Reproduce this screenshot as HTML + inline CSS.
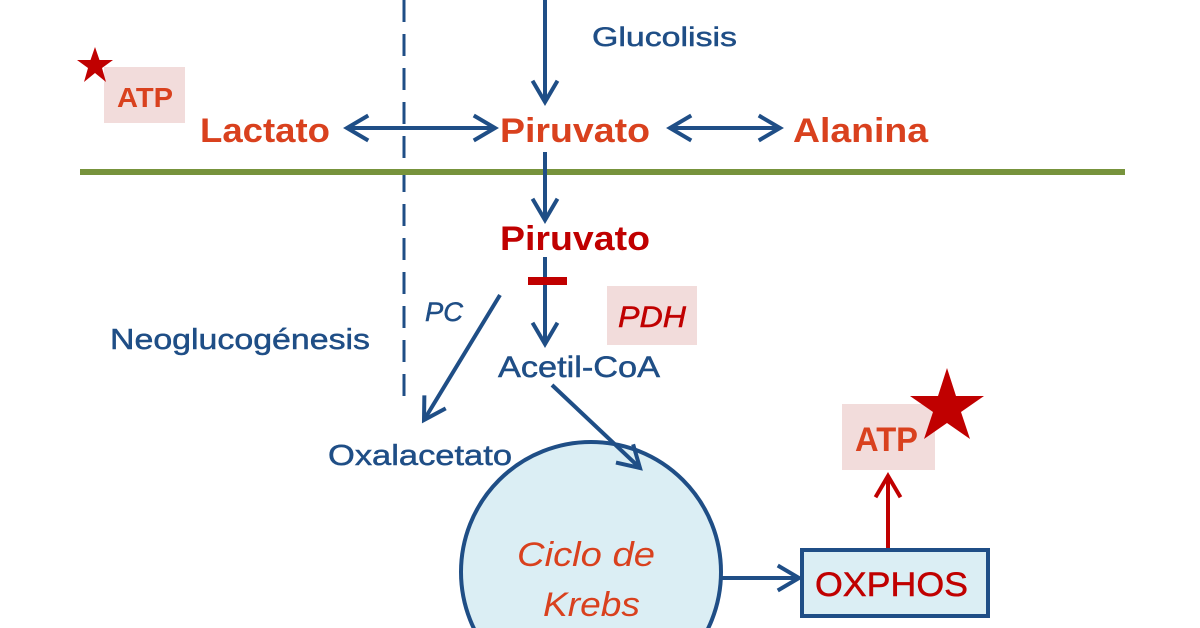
<!DOCTYPE html>
<html><head><meta charset="utf-8"><style>
html,body{margin:0;padding:0;background:#fff;overflow:hidden;}
svg{display:block;}
text{font-family:"Liberation Sans",sans-serif;}
</style></head><body>
<svg width="1200" height="628" viewBox="0 0 1200 628" xmlns="http://www.w3.org/2000/svg">
<defs>
<marker id="ab" viewBox="0 0 12 12" refX="10" refY="6" markerWidth="8" markerHeight="7.5" orient="auto-start-reverse" markerUnits="strokeWidth"><path d="M1.5,1 L10,6 L1.5,11" fill="none" stroke="#1f4e86" stroke-width="1.6"/></marker>
<marker id="ar" viewBox="0 0 12 12" refX="10" refY="6" markerWidth="8" markerHeight="7.5" orient="auto" markerUnits="strokeWidth"><path d="M1.5,1 L10,6 L1.5,11" fill="none" stroke="#c00000" stroke-width="1.6"/></marker>
</defs>
<line x1="404" y1="0" x2="404" y2="398" stroke="#1f4e86" stroke-width="3" stroke-dasharray="22,12"/>
<line x1="80" y1="172" x2="1125" y2="172" stroke="#77933c" stroke-width="6"/>
<line x1="545" y1="0" x2="545" y2="102" stroke="#1f4e86" stroke-width="4" marker-end="url(#ab)"/>
<text x="592" y="46" font-size="27" fill="#1f4e86" stroke="#1f4e86" stroke-width="0.5" textLength="145" lengthAdjust="spacingAndGlyphs">Glucolisis</text>
<rect x="104" y="67" width="81" height="56" fill="#f2dcdb"/>
<text x="117" y="107" font-size="28" font-weight="bold" fill="#d9411e" textLength="56" lengthAdjust="spacingAndGlyphs">ATP</text>
<polygon points="95,47 99.5,60 113,60 102,68 106,82 95,73 84,82 88,68 77,60 90.5,60" fill="#c00000"/>
<text x="200" y="142" font-size="34" font-weight="bold" fill="#d9411e" textLength="130" lengthAdjust="spacingAndGlyphs">Lactato</text>
<line x1="347" y1="128" x2="495" y2="128" stroke="#1f4e86" stroke-width="4" marker-start="url(#ab)" marker-end="url(#ab)"/>
<text x="500" y="142" font-size="34" font-weight="bold" fill="#d9411e" textLength="150" lengthAdjust="spacingAndGlyphs">Piruvato</text>
<line x1="670" y1="128" x2="780" y2="128" stroke="#1f4e86" stroke-width="4" marker-start="url(#ab)" marker-end="url(#ab)"/>
<text x="793" y="142" font-size="34" font-weight="bold" fill="#d9411e" textLength="135" lengthAdjust="spacingAndGlyphs">Alanina</text>
<line x1="545" y1="152" x2="545" y2="220" stroke="#1f4e86" stroke-width="4" marker-end="url(#ab)"/>
<text x="500" y="250" font-size="34" font-weight="bold" fill="#c00000" textLength="150" lengthAdjust="spacingAndGlyphs">Piruvato</text>
<line x1="545" y1="257" x2="545" y2="344" stroke="#1f4e86" stroke-width="4" marker-end="url(#ab)"/>
<rect x="528" y="277" width="39" height="8" fill="#c00000"/>
<rect x="607" y="286" width="90" height="59" fill="#f2dcdb"/>
<text x="618" y="327" font-size="30" font-style="italic" fill="#c00000" stroke="#c00000" stroke-width="0.5" textLength="68" lengthAdjust="spacingAndGlyphs">PDH</text>
<text x="498" y="377" font-size="30" fill="#1f4e86" stroke="#1f4e86" stroke-width="0.5" textLength="162" lengthAdjust="spacingAndGlyphs">Acetil-CoA</text>
<text x="425" y="321" font-size="27" font-style="italic" fill="#1f4e86" stroke="#1f4e86" stroke-width="0.5" textLength="38" lengthAdjust="spacingAndGlyphs">PC</text>
<line x1="500" y1="295" x2="424" y2="420" stroke="#1f4e86" stroke-width="4" marker-end="url(#ab)"/>
<text x="110" y="349" font-size="29" fill="#1f4e86" stroke="#1f4e86" stroke-width="0.5" textLength="260" lengthAdjust="spacingAndGlyphs">Neoglucogénesis</text>
<text x="328" y="465" font-size="29" fill="#1f4e86" stroke="#1f4e86" stroke-width="0.5" textLength="184" lengthAdjust="spacingAndGlyphs">Oxalacetato</text>
<circle cx="591" cy="572" r="130" fill="#dbeef4" stroke="#1f4e86" stroke-width="4"/>
<line x1="552" y1="385" x2="640" y2="468" stroke="#1f4e86" stroke-width="4" marker-end="url(#ab)"/>
<text x="517" y="566" font-size="34" font-style="italic" fill="#d9411e" textLength="138" lengthAdjust="spacingAndGlyphs">Ciclo de</text>
<text x="543" y="616" font-size="34" font-style="italic" fill="#d9411e" textLength="97" lengthAdjust="spacingAndGlyphs">Krebs</text>
<line x1="722" y1="578" x2="799" y2="578" stroke="#1f4e86" stroke-width="4" marker-end="url(#ab)"/>
<rect x="802" y="550" width="186" height="66" fill="#dbeef4" stroke="#1f4e86" stroke-width="4"/>
<text x="815" y="596" font-size="34" fill="#c00000" stroke="#c00000" stroke-width="0.5" textLength="153" lengthAdjust="spacingAndGlyphs">OXPHOS</text>
<line x1="888" y1="548" x2="888" y2="476" stroke="#c00000" stroke-width="4" marker-end="url(#ar)"/>
<rect x="842" y="404" width="93" height="66" fill="#f2dcdb"/>
<text x="855" y="451" font-size="34" font-weight="bold" fill="#d9411e" textLength="63" lengthAdjust="spacingAndGlyphs">ATP</text>
<polygon points="947,368 956,396 984,396 961,412 970,439 947,423 924,439 933,412 910,396 938,396" fill="#c00000"/>
</svg>
</body></html>
